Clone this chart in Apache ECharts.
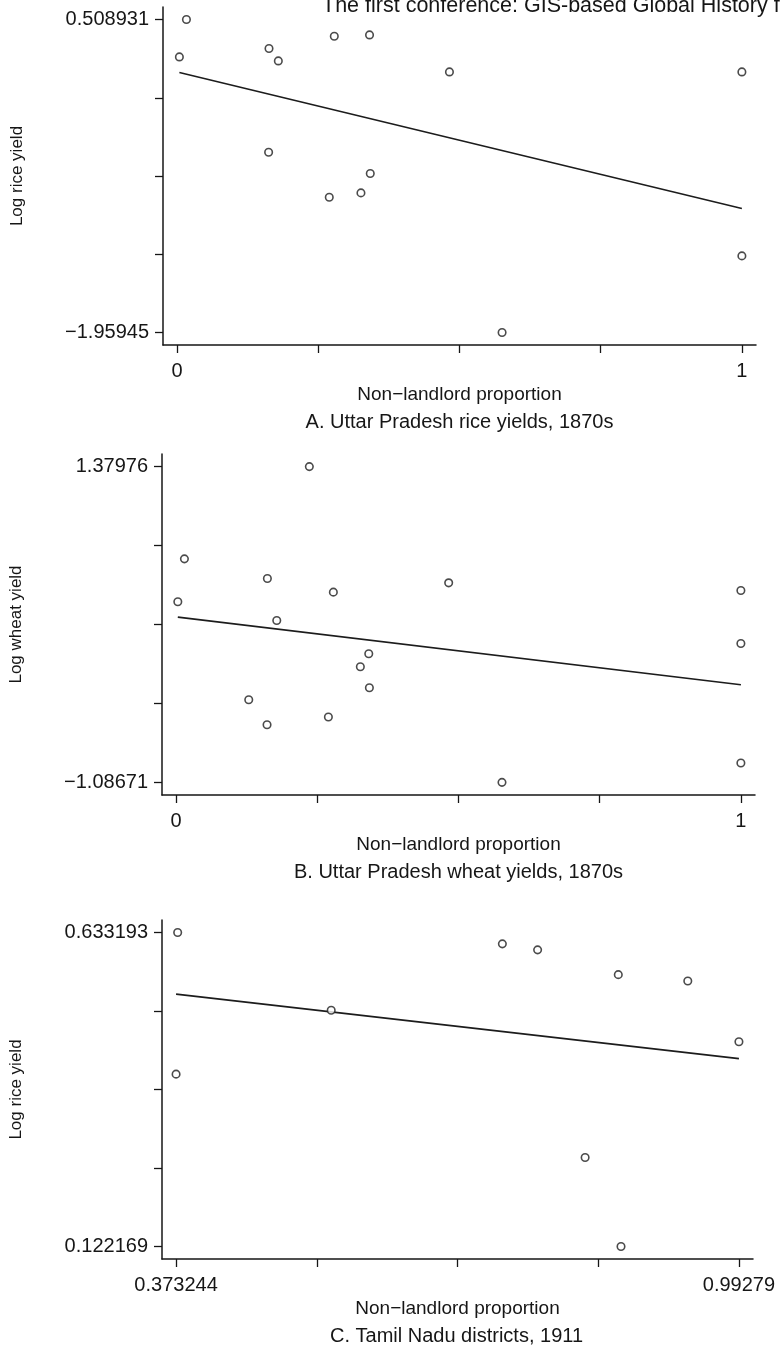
<!DOCTYPE html>
<html>
<head>
<meta charset="utf-8">
<script src="https://cdn.jsdelivr.net/npm/echarts@6/dist/echarts.min.js"></script>
<style>
  html, body { margin: 0; padding: 0; background: #ffffff; }
  #chart { width: 780px; height: 1351px; }
</style>
</head>
<body>
<div id="chart"></div>
<script>
// ---- Panel A: Uttar Pradesh rice yields, 1870s ----
const riceUPX = [0.0165, 0.004, 0.1627, 0.1792, 0.2783, 0.3407, 0.4822, 1.0, 0.162, 0.342, 0.2694, 0.3255, 1.0, 0.5754];
const riceUPY = [0.5089, 0.214, 0.2802, 0.1824, 0.3772, 0.3875, 0.0957, 0.0957, -0.5376, -0.7055, -0.8925, -0.8585, -1.3554, -1.9594];
const riceUPFitX = [0.004, 1.0];
const riceUPFitY = [0.091, -0.982];
const riceUPYTicks = [-1.95945, 0.508931];
const riceUPYLabels = ['\u22121.95945', '0.508931'];
const riceUPXTicks = [0, 1];
const riceUPXLabels = ['0', '1'];

// ---- Panel B: Uttar Pradesh wheat yields, 1870s ----
const wheatUPX = [0.2359, 0.0147, 0.003, 0.1616, 0.1782, 0.2784, 0.4826, 0.3411, 0.3262, 0.3422, 0.1286, 0.161, 0.2696, 1.0, 1.0, 1.0, 0.577];
const wheatUPY = [1.3798, 0.6593, 0.3237, 0.5056, 0.1778, 0.3994, 0.472, -0.0822, -0.1836, -0.3475, -0.4412, -0.6363, -0.5762, 0.4119, -0.0018, -0.9353, -1.0867];
const wheatUPFitX = [0.003, 1.0];
const wheatUPFitY = [0.204, -0.324];
const wheatUPYTicks = [-1.08671, 1.37976];
const wheatUPYLabels = ['\u22121.08671', '1.37976'];
const wheatUPXTicks = [0, 1];
const wheatUPXLabels = ['0', '1'];

// ---- Panel C: Tamil Nadu districts, 1911 ----
const riceTNX = [0.375, 0.373244, 0.544, 0.7324, 0.7712, 0.86, 0.9365, 0.99279, 0.8235, 0.863];
const riceTNY = [0.6332, 0.4027, 0.5066, 0.6148, 0.605, 0.5647, 0.5544, 0.4554, 0.2669, 0.1222];
const riceTNFitX = [0.373244, 0.99279];
const riceTNFitY = [0.533, 0.428];
const riceTNYTicks = [0.122169, 0.633193];
const riceTNYLabels = ['0.122169', '0.633193'];
const riceTNXTicks = [0.373244, 0.99279];
const riceTNXLabels = ['0.373244', '0.99279'];

const xTitle = 'Non\u2212landlord proportion';
const yTitles = ['Log rice yield', 'Log wheat yield', 'Log rice yield'];
const captions = ['A. Uttar Pradesh rice yields, 1870s', 'B. Uttar Pradesh wheat yields, 1870s', 'C. Tamil Nadu districts, 1911'];
const runningHead = 'The first conference: GIS-based Global History from Asian Perspectives';

const FONT = '"Liberation Sans", Arial, Helvetica, sans-serif';
const INK = '#161616';

const zip = (xs, ys) => xs.map((x, i) => [x, ys[i]]);

const panels = [
  { x: riceUPX, y: riceUPY, fx: riceUPFitX, fy: riceUPFitY, yt: riceUPYTicks, yl: riceUPYLabels, xt: riceUPXTicks, xl: riceUPXLabels,
    grid: { left: 163, top: 7, width: 593, height: 338 } },
  { x: wheatUPX, y: wheatUPY, fx: wheatUPFitX, fy: wheatUPFitY, yt: wheatUPYTicks, yl: wheatUPYLabels, xt: wheatUPXTicks, xl: wheatUPXLabels,
    grid: { left: 162, top: 454, width: 593, height: 341 } },
  { x: riceTNX, y: riceTNY, fx: riceTNFitX, fy: riceTNFitY, yt: riceTNYTicks, yl: riceTNYLabels, xt: riceTNXTicks, xl: riceTNXLabels,
    grid: { left: 160, top: 920, width: 593, height: 339 } }
];

// Five evenly spaced ticks between the labelled extremes, axes padded a little past them
const fiveTicks = (lo, hi) => [0, 1, 2, 3, 4].map(k => lo + (hi - lo) * k / 4);
const labelFor = (ticks, labels) => v => {
  let best = 0;
  ticks.forEach((t, i) => { if (Math.abs(t - v) < Math.abs(ticks[best] - v)) best = i; });
  return labels[best];
};

const grids = [], xAxes = [], yAxes = [], series = [], graphics = [];

panels.forEach((p, i) => {
  grids.push(Object.assign({ containLabel: false }, p.grid));

  const [xlo, xhi] = p.xt;
  const [ylo, yhi] = p.yt;
  const xpad = (xhi - xlo) * 0.025;
  const ypad = (yhi - ylo) * 0.04;

  const axisLine = { show: true, onZero: false, lineStyle: { color: INK, width: 1.5 } };

  xAxes.push({
    type: 'value', gridIndex: i,
    min: xlo - xpad, max: xhi + xpad,
    axisLine,
    axisTick: { show: true, inside: false, length: 8, customValues: fiveTicks(xlo, xhi), lineStyle: { color: INK, width: 1.3 } },
    axisLabel: { show: true, customValues: p.xt, formatter: labelFor(p.xt, p.xl), margin: 16,
                 fontSize: 20, fontFamily: FONT, color: INK },
    splitLine: { show: false },
    name: xTitle, nameLocation: 'middle', nameGap: 40,
    nameTextStyle: { fontSize: 19, fontFamily: FONT, color: INK }
  });

  yAxes.push({
    type: 'value', gridIndex: i,
    min: ylo - ypad, max: yhi + ypad,
    axisLine,
    axisTick: { show: true, inside: false, length: 8, customValues: fiveTicks(ylo, yhi), lineStyle: { color: INK, width: 1.3 } },
    axisLabel: { show: true, customValues: p.yt, formatter: labelFor(p.yt, p.yl), margin: 14,
                 fontSize: 20, fontFamily: FONT, color: INK },
    splitLine: { show: false },
    name: yTitles[i], nameLocation: 'middle', nameGap: 137,
    nameTextStyle: { fontSize: 17, fontFamily: FONT, color: INK }
  });

  series.push({
    type: 'scatter', xAxisIndex: i, yAxisIndex: i,
    data: zip(p.x, p.y),
    symbol: 'circle', symbolSize: 7.5,
    itemStyle: { color: '#ffffff', borderColor: '#1e1e1e', borderWidth: 1.6 },
    emphasis: { disabled: true }, z: 3
  });

  series.push({
    type: 'line', xAxisIndex: i, yAxisIndex: i,
    data: zip(p.fx, p.fy),
    showSymbol: false, symbol: 'none',
    lineStyle: { color: '#1c1c1c', width: 1.6 },
    emphasis: { disabled: true }, z: 2
  });

  const axisBottom = p.grid.top + p.grid.height;
  graphics.push({
    type: 'text', x: p.grid.left + p.grid.width / 2, y: axisBottom + 77,
    style: { text: captions[i], font: '20px ' + FONT, fill: INK,
             align: 'center', verticalAlign: 'middle', textAlign: 'center', textVerticalAlign: 'middle' }
  });
});

// Running head at the top of the page, cut by the page edge
graphics.push({
  type: 'text', x: 322, y: 17,
  style: { text: runningHead, font: '21.5px ' + FONT, fill: INK,
           align: 'left', verticalAlign: 'bottom', textAlign: 'left', textVerticalAlign: 'bottom' }
});

const chart = echarts.init(document.getElementById('chart'), null, { renderer: 'canvas' });
chart.setOption({
  animation: false,
  backgroundColor: '#ffffff',
  grid: grids,
  xAxis: xAxes,
  yAxis: yAxes,
  series,
  graphic: graphics
});
</script>
</body>
</html>
